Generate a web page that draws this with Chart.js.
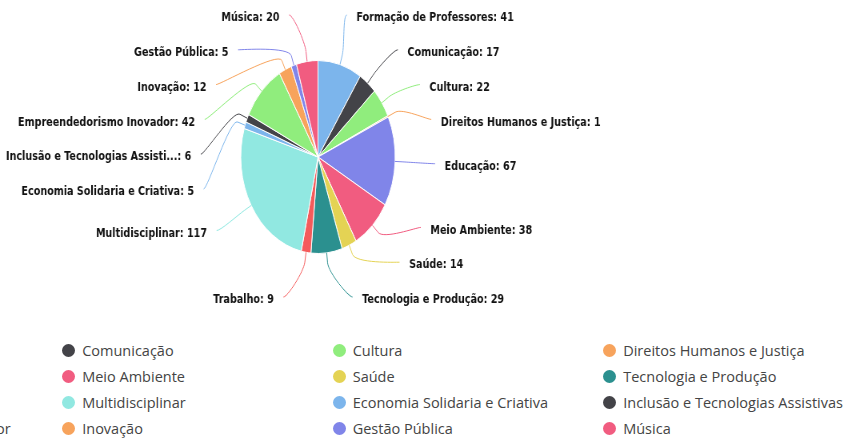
<!DOCTYPE html>
<html>
<head>
<meta charset="utf-8">
<script src="https://cdn.jsdelivr.net/npm/chart.js@4.4.1/dist/chart.umd.min.js"></script>
<style>
  html, body { margin: 0; padding: 0; background: #fff; }
  #wrap { position: relative; width: 847px; height: 439px; overflow: hidden; background: #fff; }
  /* the plot is drawn wide and squeezed horizontally */
  #plot { position: absolute; left: 0; top: 0; width: 1059px; height: 330px; transform: scaleX(0.8); transform-origin: 0 0; }
  #legend .item { position: absolute; display: flex; align-items: center; height: 20px; white-space: nowrap;
    font: 14.5px "Open Sans", sans-serif; color: #444; }
  #legend .dot { display: inline-block; width: 13px; height: 13px; border-radius: 50%; margin-right: 7px; flex: none; }
</style>
</head>
<body>
<div id="wrap">
  <div id="plot"><canvas id="chart-areas"></canvas></div>
  <div id="legend"></div>
</div>
<script>
// projetos por área temática
const categories = [
  "Formação de Professores", "Comunicação", "Cultura", "Direitos Humanos e Justiça",
  "Educação", "Meio Ambiente", "Saúde", "Tecnologia e Produção",
  "Trabalho", "Multidisciplinar", "Economia Solidaria e Criativa", "Inclusão e Tecnologias Assistivas",
  "Empreendedorismo Inovador", "Inovação", "Gestão Pública", "Música"
];
const projetos = [41, 17, 22, 1, 67, 38, 14, 29, 9, 117, 5, 6, 42, 12, 5, 20];

const palette = ["#7cb5ec", "#434348", "#90ed7d", "#f7a35c", "#8085e9",
                 "#f15c80", "#e4d354", "#2b908f", "#f45b5b", "#91e8e1"];
const colors = categories.map((_, i) => palette[i % palette.length]);

// posicionamento dos rótulos (estilo highcharts)
const LABEL_DIST = 50;
const LABEL_PAD = 12;
const LABEL_TOP = 15;
const LABEL_BOTTOM = 297;
const LABEL_STEP = 34.8;
const LABEL_MARGIN = 6;
const LABEL_FONT = 'bold 12px "DejaVu Sans", sans-serif';

// espalha os rótulos de um lado sem sobreposição
function distribute(items) {
  items.sort((a, b) => a.target - b.target);
  let groups = items.map(it => ({ items: [it], pos: it.target }));
  const place = g => {
    const mean = g.items.reduce((s, it) => s + it.target, 0) / g.items.length;
    let p = mean - (g.items.length - 1) * LABEL_STEP / 2;
    p = Math.min(p, LABEL_BOTTOM - (g.items.length - 1) * LABEL_STEP);
    g.pos = Math.max(p, LABEL_TOP);
  };
  groups.forEach(place);
  let merged = true;
  while (merged) {
    merged = false;
    for (let i = 0; i < groups.length - 1; i++) {
      const a = groups[i], b = groups[i + 1];
      if (a.pos + a.items.length * LABEL_STEP > b.pos + 0.01) {
        a.items = a.items.concat(b.items);
        place(a);
        groups.splice(i + 1, 1);
        merged = true;
        break;
      }
    }
  }
  groups.forEach(g => g.items.forEach((it, k) => { it.y = g.pos + k * LABEL_STEP; }));
}

function fitText(ctx, name, value, avail) {
  let txt = name + ": " + value;
  if (ctx.measureText(txt).width <= avail) return txt;
  let n = name;
  while (n.length > 1) {
    n = n.slice(0, -1);
    txt = n + "...: " + value;
    if (ctx.measureText(txt).width <= avail) return txt;
  }
  return txt;
}

const pieLabels = {
  id: "pieLabels",
  afterDatasetsDraw(chart) {
    const ctx = chart.ctx;
    const arcs = chart.getDatasetMeta(0).data;
    const values = chart.data.datasets[0].data;
    const left = [], right = [];
    arcs.forEach((arc, i) => {
      const mid = (arc.startAngle + arc.endAngle) / 2;
      const R = arc.outerRadius + LABEL_DIST;
      const it = { i, arc, mid, R, target: arc.y + R * Math.sin(mid) };
      (Math.cos(mid) >= 0 ? right : left).push(it);
    });
    distribute(left);
    distribute(right);

    ctx.save();
    ctx.font = LABEL_FONT;
    ctx.textBaseline = "middle";
    [[left, -1], [right, 1]].forEach(([items, side]) => {
      items.forEach(it => {
        const { arc, mid, R } = it;
        const cx = arc.x, cy = arc.y, r = arc.outerRadius;
        const dy = Math.max(-R, Math.min(R, it.y - cy));
        const dx = Math.sqrt(R * R - dy * dy);
        const endX = cx + side * dx;
        const touch = { x: cx + r * Math.cos(mid), y: cy + r * Math.sin(mid) };
        const brk = { x: cx + (r + 10) * Math.cos(mid), y: cy + (r + 10) * Math.sin(mid) };

        ctx.beginPath();
        ctx.moveTo(endX, it.y);
        ctx.bezierCurveTo(endX - side * 5, it.y, 2 * brk.x - touch.x, 2 * brk.y - touch.y, brk.x, brk.y);
        ctx.lineTo(touch.x, touch.y);
        ctx.strokeStyle = colors[it.i];
        ctx.lineWidth = 1;
        ctx.stroke();

        const tx = cx + side * (dx + LABEL_PAD);
        const avail = side < 0 ? tx - LABEL_MARGIN : chart.width - LABEL_MARGIN - tx;
        const txt = fitText(ctx, categories[it.i], values[it.i], avail);
        ctx.textAlign = side < 0 ? "right" : "left";
        ctx.fillStyle = "#111";
        ctx.fillText(txt, tx, it.y + 3);
      });
    });
    ctx.restore();
  }
};

new Chart(document.getElementById("chart-areas"), {
  type: "pie",
  data: {
    labels: categories,
    datasets: [{
      data: projetos,
      backgroundColor: colors,
      borderColor: "#ffffff",
      borderWidth: 1
    }]
  },
  options: {
    responsive: true,
    maintainAspectRatio: false,
    animation: false,
    events: [],
    layout: { padding: { left: 300.5, right: 564.5, top: 60, bottom: 76 } },
    plugins: {
      legend: { display: false },
      tooltip: { enabled: false }
    }
  },
  plugins: [pieLabels]
});

// legenda em 4 colunas, montada a partir das mesmas listas
const LEGEND_X = -208.3;
const LEGEND_COL = 270.5;
const LEGEND_Y = 340.5;
const LEGEND_ROW = 26;
const legendEl = document.getElementById("legend");
categories.forEach((name, i) => {
  const col = i % 4, row = Math.floor(i / 4);
  const item = document.createElement("div");
  item.className = "item";
  item.style.left = (LEGEND_X + col * LEGEND_COL) + "px";
  item.style.top = (LEGEND_Y + row * LEGEND_ROW) + "px";
  const dot = document.createElement("span");
  dot.className = "dot";
  dot.style.background = colors[i];
  item.appendChild(dot);
  item.appendChild(document.createTextNode(name));
  legendEl.appendChild(item);
});
</script>
</body>
</html>
